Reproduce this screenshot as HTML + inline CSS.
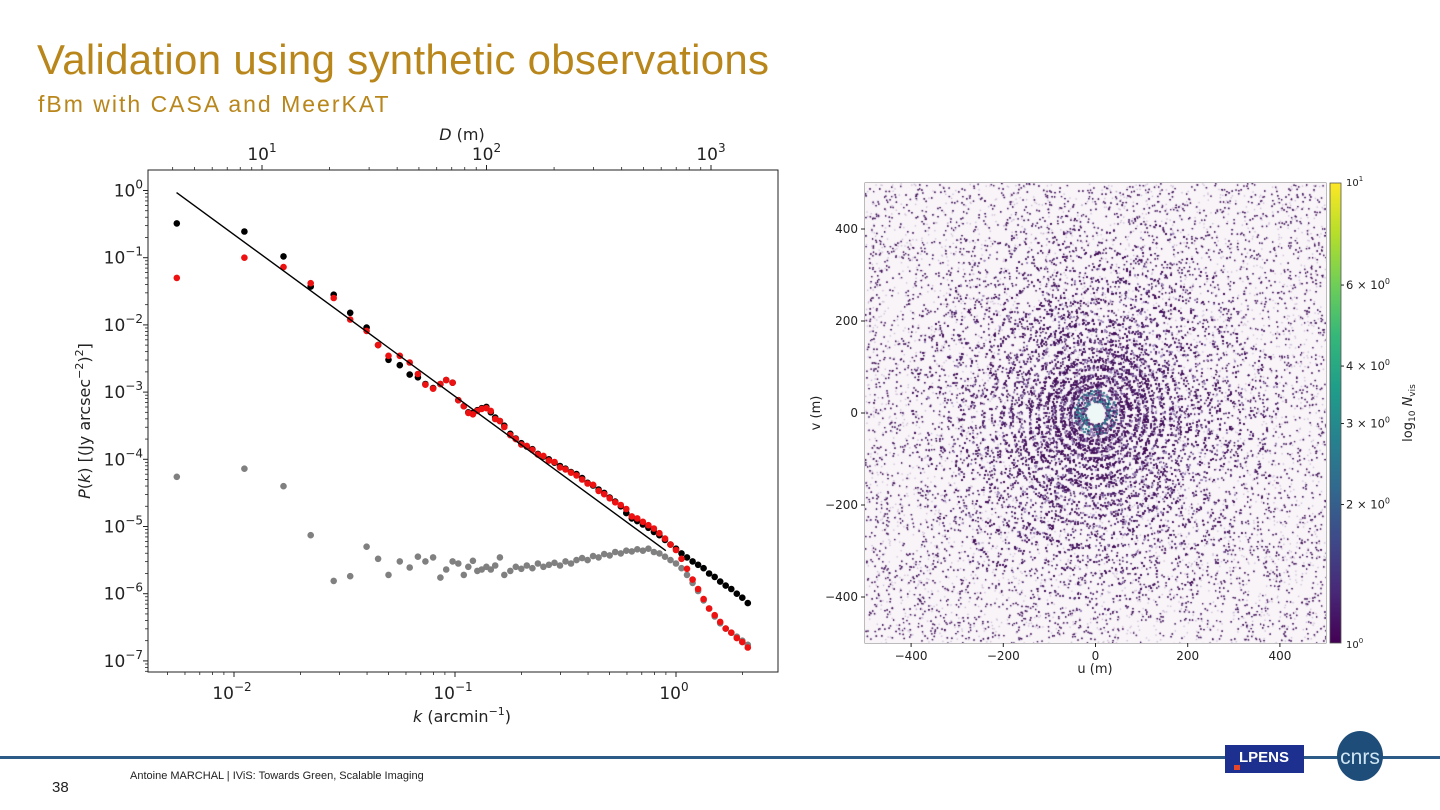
<!DOCTYPE html>
<html><head><meta charset="utf-8">
<style>
html,body{margin:0;padding:0;background:#fff;}
#page{position:relative;width:1440px;height:810px;overflow:hidden;font-family:"Liberation Sans",sans-serif;}
.title{position:absolute;left:37px;top:36px;font-size:42px;color:#B8861B;letter-spacing:0.3px;}
.subtitle{position:absolute;left:38px;top:91px;font-size:23px;color:#B8861B;letter-spacing:2px;}
svg text{font-family:"DejaVu Sans","Liberation Sans",sans-serif;}
#uv{position:absolute;left:865px;top:183px;}
</style></head>
<body>
<div id="page">
<div class="title">Validation using synthetic observations</div>
<div class="subtitle">fBm with CASA and MeerKAT</div>
<svg id="chart" width="1440" height="810" style="position:absolute;left:0;top:0">
  <g id="left"></g>
  <g id="right"></g>
  <g>
    <rect x="0" y="756" width="1440" height="3" fill="#2b5b86"/>
    <text x="52" y="792" font-size="15" fill="#222" style="font-family:'Liberation Sans Narrow','Liberation Sans',sans-serif">38</text>
    <text x="130" y="779" font-size="11" fill="#222" style="font-family:'Liberation Sans Narrow','Liberation Sans',sans-serif">Antoine MARCHAL  | IViS: Towards Green, Scalable Imaging</text>
    <g>
      <rect x="1225" y="745" width="79" height="28" fill="#1d2f8f"/>
      <text x="1264" y="762" font-size="15" fill="#fff" text-anchor="middle" font-weight="bold" style="font-family:'Liberation Sans',sans-serif">LPENS</text>
      <rect x="1234" y="765" width="6" height="5" fill="#e8462b"/>
    </g>
    <g>
      <ellipse cx="1360" cy="756" rx="23" ry="25" fill="#1f4d7a"/>
      <text x="1360" y="764" font-size="21" fill="#cfe6f2" text-anchor="middle" style="font-family:'Liberation Sans Narrow','Liberation Sans',sans-serif">cnrs</text>
    </g>
  </g>
</svg>
<canvas id="uv" width="461" height="460"></canvas>
</div>
<script>
// ---------- Power spectrum data (log10 k in arcmin^-1, log10 P) ----------
const kLog = [-2.259,-1.953,-1.776,-1.653,-1.549,-1.474,-1.400,-1.348,-1.301,-1.250,-1.205,-1.168,-1.134,-1.099,-1.066,-1.040,-1.011,-0.985,-0.960,-0.940,-0.919,-0.899,-0.879,-0.858,-0.838,-0.818,-0.797,-0.777,
-0.750,-0.725,-0.700,-0.675,-0.650,-0.625,-0.600,-0.575,-0.550,-0.525,-0.500,-0.475,-0.450,-0.425,-0.400,-0.375,-0.350,-0.325,-0.300,-0.275,-0.250,-0.225,-0.200,-0.175,-0.150,-0.125,-0.100,-0.075,-0.050,-0.025,0.000,0.025,0.050,0.075,0.100,0.125,0.150,0.175,0.200,0.225,0.250,0.275,0.300,0.325];
const blackP = [-0.49,-0.61,-0.98,-1.43,-1.55,-1.82,-2.04,-2.30,-2.52,-2.60,-2.74,-2.78,-2.88,-2.94,-2.88,-2.82,-2.86,-3.12,-3.21,-3.30,-3.31,-3.27,-3.24,-3.22,-3.30,-3.38,-3.43,-3.50,
-3.62,-3.69,-3.76,-3.81,-3.85,-3.92,-3.96,-4.00,-4.05,-4.10,-4.14,-4.19,-4.22,-4.28,-4.35,-4.39,-4.45,-4.50,-4.57,-4.63,-4.70,-4.80,-4.88,-4.92,-4.97,-5.02,-5.08,-5.13,-5.20,-5.27,-5.33,-5.40,-5.46,-5.52,-5.57,-5.62,-5.70,-5.75,-5.82,-5.88,-5.93,-6.00,-6.06,-6.14];
const redP = [-1.30,-1.00,-1.14,-1.38,-1.60,-1.92,-2.09,-2.30,-2.46,-2.46,-2.56,-2.73,-2.89,-2.95,-2.88,-2.82,-2.86,-3.12,-3.21,-3.31,-3.33,-3.28,-3.25,-3.24,-3.28,-3.40,-3.43,-3.52,
-3.64,-3.70,-3.78,-3.80,-3.86,-3.93,-3.95,-4.02,-4.04,-4.12,-4.15,-4.20,-4.24,-4.30,-4.36,-4.38,-4.47,-4.52,-4.58,-4.64,-4.68,-4.74,-4.85,-4.88,-4.93,-4.98,-5.03,-5.10,-5.18,-5.27,-5.35,-5.48,-5.63,-5.79,-5.93,-6.08,-6.22,-6.32,-6.42,-6.52,-6.58,-6.66,-6.72,-6.80];
const grayP = [-4.26,-4.14,-4.40,-5.13,-5.81,-5.74,-5.30,-5.48,-5.72,-5.52,-5.61,-5.45,-5.52,-5.46,-5.76,-5.64,-5.52,-5.55,-5.72,-5.60,-5.51,-5.66,-5.64,-5.60,-5.64,-5.58,-5.46,-5.72,
-5.66,-5.60,-5.63,-5.58,-5.62,-5.55,-5.60,-5.57,-5.54,-5.58,-5.52,-5.55,-5.50,-5.47,-5.50,-5.44,-5.46,-5.41,-5.43,-5.38,-5.40,-5.36,-5.37,-5.34,-5.36,-5.33,-5.38,-5.40,-5.45,-5.50,-5.55,-5.62,-5.72,-5.84,-5.96,-6.10,-6.22,-6.34,-6.44,-6.52,-6.58,-6.64,-6.70,-6.76];
const fitKLog = [-2.26, -0.046];
const fitPLog = [-0.03, -5.36];
const yTickExp = [0,-1,-2,-3,-4,-5,-6,-7];
const xTickExp = [-2,-1,0];
const topTickExp = [1,2,3];

// ---------- uv coverage data ----------
const uvTicks = [-400,-200,0,200,400];
const ringRadii = [30,45,62,80,100,118,138,158,180,200,222,245,268,292,318,345,372,400,430];
const ringWeight = [2.5,3,3.5,4,4,4,4,4,4,4,3.5,3.5,3,3,2.5,2.2,1.8,1.5,1.2];
const cbarTicks = [2,3,4,6];

const NS = "http://www.w3.org/2000/svg";
function mk(parent, tag, attrs, txt){
  const e = document.createElementNS(NS, tag);
  for (const k in attrs) e.setAttribute(k, attrs[k]);
  if (txt !== undefined) e.textContent = txt;
  parent.appendChild(e); return e;
}
const L = {x0:148, x1:778, y0:170, y1:672};
const kx = lk => 234 + 221*(lk + 2);
const py = lp => 190.5 - 67.2*lp;
const dx = ld => 262 + 224.5*(ld - 1);

const left = document.getElementById('left');
function dots(vals, color, name){
  const g = mk(left,'g',{});
  
  
  vals.forEach((v,i)=>{
    const c = mk(g,'circle',{cx:kx(kLog[i]).toFixed(1), cy:py(v).toFixed(1), r:3.3, fill:color});
    
    
  });
}
dots(grayP, '#808080', 'gray-series');
dots(blackP, '#000000', 'black-series');
dots(redP, '#ee1111', 'red-series');
const fit = mk(left,'line',{x1:kx(fitKLog[0]), y1:py(fitPLog[0]), x2:kx(fitKLog[1]), y2:py(fitPLog[1]), stroke:'#000', 'stroke-width':1.4});



const frame = mk(left,'rect',{x:L.x0, y:L.y0, width:L.x1-L.x0, height:L.y1-L.y0, fill:'none', stroke:'#222', 'stroke-width':1});



yTickExp.forEach(e=>{
  const y = py(e);
  mk(left,'line',{x1:L.x0-5, x2:L.x0, y1:y, y2:y, stroke:'#222'});
  const t = mk(left,'text',{x:L.x0-5, y:y+6, 'font-size':17, 'text-anchor':'end', fill:'#222'});
  
  
  t.innerHTML = '10<tspan dy="-8" font-size="12">' + (e<0?'\u2212'+(-e):e) + '</tspan>';
  for (let m=2;m<10;m++){
    const ym = py(e - 1 + Math.log10(m));
    if (ym>L.y0 && ym<L.y1) mk(left,'line',{x1:L.x0-3, x2:L.x0, y1:ym, y2:ym, stroke:'#222', 'stroke-width':0.8});
  }
});
[-3,-2,-1,0].forEach(e=>{
  for (let m=1;m<10;m++){
    const x = kx(e + Math.log10(m));
    if (x<=L.x0 || x>=L.x1) continue;
    mk(left,'line',{x1:x, x2:x, y1:L.y1, y2:L.y1+(m===1?5:3), stroke:'#222', 'stroke-width':m===1?1:0.8});
  }
});
xTickExp.forEach(e=>{
  const t = mk(left,'text',{x:kx(e)-2, y:L.y1+27, 'font-size':17, 'text-anchor':'middle', fill:'#222'});
  
  
  t.innerHTML = '10<tspan dy="-8" font-size="12">' + (e<0?'\u2212'+(-e):e) + '</tspan>';
});
[0,1,2,3].forEach(e=>{
  for (let m=1;m<10;m++){
    const x = dx(e + Math.log10(m));
    if (x<=L.x0 || x>=L.x1) continue;
    mk(left,'line',{x1:x, x2:x, y1:L.y0, y2:L.y0-(m===1?5:3), stroke:'#222', 'stroke-width':m===1?1:0.8});
  }
});
topTickExp.forEach(e=>{
  const t = mk(left,'text',{x:dx(e), y:L.y0-10, 'font-size':17, 'text-anchor':'middle', fill:'#222'});
  
  
  t.innerHTML = '10<tspan dy="-8" font-size="12">' + e + '</tspan>';
});
let t;
t = mk(left,'text',{x:462, y:722, 'font-size':16, 'text-anchor':'middle', fill:'#222'});


t.innerHTML = '<tspan font-style="italic">k</tspan> (arcmin<tspan dy="-7" font-size="11">\u22121</tspan><tspan dy="7">)</tspan>';
t = mk(left,'text',{x:462, y:140, 'font-size':16, 'text-anchor':'middle', fill:'#222'});


t.innerHTML = '<tspan font-style="italic">D</tspan> (m)';
t = mk(left,'text',{x:0, y:0, 'font-size':16, 'text-anchor':'middle', fill:'#222', transform:'translate(90,421) rotate(-90)'});


t.innerHTML = '<tspan font-style="italic">P</tspan>(<tspan font-style="italic">k</tspan>) [(Jy arcsec<tspan dy="-7" font-size="11">\u22122</tspan><tspan dy="7">)</tspan><tspan dy="-7" font-size="11">2</tspan><tspan dy="7">]</tspan>';

// ---------- right plot axes ----------
const R = {x0:865, x1:1326, y0:183, y1:643};
const ux = u => 1095.5 + 0.461*u;
const vy = v => 413 - 0.46*v;
const right = document.getElementById('right');
const rf = mk(right,'rect',{x:R.x0, y:R.y0, width:R.x1-R.x0, height:R.y1-R.y0, fill:'none', stroke:'#777', 'stroke-width':1});


uvTicks.forEach(u=>{
  const x = ux(u);
  mk(right,'line',{x1:x,x2:x,y1:R.y1,y2:R.y1+4,stroke:'#222'});
  const a = mk(right,'text',{x:x, y:R.y1+17, 'font-size':12, 'text-anchor':'middle', fill:'#222'}, u<0?'\u2212'+(-u):String(u));
  
  
  const y = vy(u);
  mk(right,'line',{x1:R.x0-4,x2:R.x0,y1:y,y2:y,stroke:'#222'});
  const b = mk(right,'text',{x:R.x0-7, y:y+4, 'font-size':12, 'text-anchor':'end', fill:'#222'}, u<0?'\u2212'+(-u):String(u));
  
  
});
t = mk(right,'text',{x:1095, y:673, 'font-size':13, 'text-anchor':'middle', fill:'#222'}, 'u (m)');


t = mk(right,'text',{x:0, y:0, 'font-size':13, 'text-anchor':'middle', fill:'#222', transform:'translate(820,413) rotate(-90)'}, 'v (m)');



const defs = mk(right,'defs',{});
const grad = mk(defs,'linearGradient',{id:'vir', x1:0, y1:1, x2:0, y2:0});
['#440154','#482878','#3e4989','#31688e','#26828e','#1f9e89','#35b779','#6ece58','#b5de2b','#fde725'].forEach((c,i)=>mk(grad,'stop',{offset:(i/9), 'stop-color':c}));
const cb = mk(right,'rect',{x:1330, y:R.y0, width:11, height:R.y1-R.y0, fill:'url(#vir)', stroke:'#555', 'stroke-width':0.8});


const cby = v => R.y1 - (R.y1-R.y0)*Math.log10(v);
cbarTicks.forEach(v=>{
  const y = cby(v);
  mk(right,'line',{x1:1341,x2:1344,y1:y,y2:y,stroke:'#222'});
  const a = mk(right,'text',{x:1346, y:y+4, 'font-size':11.5, fill:'#222'});
  
  
  a.innerHTML = v + ' \u00d7 10<tspan dy="-5" font-size="8">0</tspan>';
});
[[1,'1'],[0,'0']].forEach(([e,s])=>{
  const a = mk(right,'text',{x:1346, y:(e?R.y0+3:R.y1+5), 'font-size':10, fill:'#222'});
  
  
  a.innerHTML = '10<tspan dy="-5" font-size="7">' + s + '</tspan>';
});
t = mk(right,'text',{x:0, y:0, 'font-size':13, 'text-anchor':'middle', fill:'#222', transform:'translate(1412,413) rotate(-90)'});


t.innerHTML = 'log<tspan dy="3" font-size="9">10</tspan><tspan dy="-3"> </tspan><tspan font-style="italic">N</tspan><tspan dy="3" font-size="9">vis</tspan>';

// ---------- uv texture (deterministic) ----------
const cv = document.getElementById('uv');
const ctx = cv.getContext('2d');
let seed = 12345;
function rnd(){ seed = (seed*1103515245 + 12345) & 0x7fffffff; return seed/0x7fffffff; }
const W=461,H=460,cx=230.5,cyc=230;
ctx.fillStyle='#f8f4f8'; ctx.fillRect(0,0,W,H);
for (let i=0;i<38000;i++){ ctx.fillStyle='rgba(185,165,200,0.7)'; ctx.fillRect(rnd()*W, rnd()*H, 1.3, 1.3); }
for (let i=0;i<14000;i++){ ctx.fillStyle='#3b0c50'; ctx.fillRect(rnd()*W, rnd()*H, 1, 1); }
const wsum = ringWeight.reduce((a,b)=>a+b,0);
for (let i=0;i<80000;i++){
  let r0 = rnd()*wsum, j=0;
  while (r0 > ringWeight[j] && j<ringWeight.length-1){ r0 -= ringWeight[j]; j++; }
  const r = (ringRadii[j] + (rnd()-0.5)*12)*0.46;
  const a = rnd()*Math.PI*2;
  const x = cx + r*Math.cos(a)*0.92, y = cyc + r*Math.sin(a);
  const d = rnd();
  ctx.fillStyle = j<2 && d<0.35 ? '#2a7f8e' : (d<0.5 ? '#44105a' : (d<0.78 ? 'rgba(90,50,120,0.7)' : 'rgba(160,140,190,0.8)'));
  ctx.fillRect(x, y, 1.2, 1.2);
}
ctx.fillStyle='#eef8f6'; ctx.beginPath(); ctx.ellipse(cx,cyc,8,10,0,0,Math.PI*2); ctx.fill();
</script>
</body></html>
